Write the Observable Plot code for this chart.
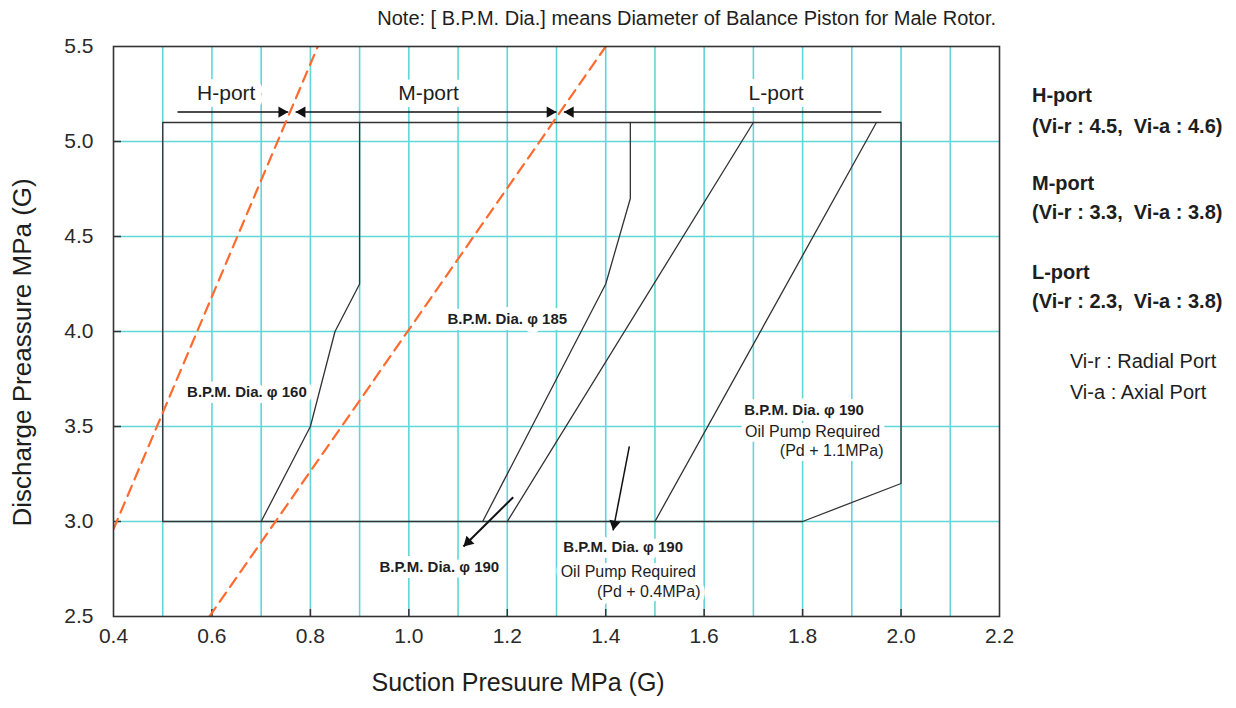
<!DOCTYPE html>
<html>
<head>
<meta charset="utf-8">
<script src="https://cdn.jsdelivr.net/npm/d3@7"></script>
<script src="https://cdn.jsdelivr.net/npm/@observablehq/plot@0.6"></script>
<style>
  html, body { margin: 0; padding: 0; background: #fff; }
  #chart svg { display: block; }
</style>
</head>
<body>
<div id="chart"></div>
<script>
// ---------- scales / ticks ----------
const xDomain = [0.4, 2.2];
const yDomain = [2.5, 5.5];
const xTickValues = [0.4, 0.6, 0.8, 1.0, 1.2, 1.4, 1.6, 1.8, 2.0, 2.2];
const yTickValues = [2.5, 3.0, 3.5, 4.0, 4.5, 5.0, 5.5];
const xInnerTicks = [0.6, 0.8, 1.0, 1.2, 1.4, 1.6, 1.8, 2.0];
const yInnerTicks = [3.0, 3.5, 4.0, 4.5, 5.0];
const xGridValues = [0.5, 0.6, 0.7, 0.8, 0.9, 1.0, 1.1, 1.2, 1.3, 1.4, 1.5, 1.6, 1.7, 1.8, 1.9, 2.0, 2.1];
const yGridValues = [3.0, 3.5, 4.0, 4.5, 5.0];

// ---------- curves (suction MPa, discharge MPa) ----------
const operatingEnvelope = [[0.5, 3.0], [0.5, 5.1], [2.0, 5.1], [2.0, 3.2], [1.8, 3.0], [0.5, 3.0]];
const limitPhi160 = [[0.7, 3.0], [0.8, 3.5], [0.85, 4.0], [0.9, 4.25], [0.9, 5.1]];
const limitPhi185 = [[1.15, 3.0], [1.4, 4.25], [1.45, 4.7], [1.45, 5.1]];
const limitPhi190 = [[1.2, 3.0], [1.7, 5.1]];
const limitPhi190Pump = [[1.5, 3.0], [1.95, 5.1]];
const boundaryHtoM = [[0.4, 2.96], [0.815, 5.5]];
const boundaryMtoL = [[0.595, 2.5], [1.4, 5.5]];

// ---------- arrows ----------
const portArrows = [
  {x1: 0.53, y1: 5.155, x2: 0.755, y2: 5.155, heads: ["end"]},
  {x1: 0.77, y1: 5.155, x2: 1.30, y2: 5.155, heads: ["start", "end"]},
  {x1: 1.96, y1: 5.155, x2: 1.315, y2: 5.155, heads: ["end"]}
];
const pointerArrowA = [{x1: 1.212, y1: 3.128, x2: 1.111, y2: 2.868, heads: ["end"]}];
const pointerArrowB = [{x1: 1.448, y1: 3.395, x2: 1.415, y2: 2.953, heads: ["end"]}];

// ---------- texts ----------
const noteText = [{text: "Note: [ B.P.M. Dia.] means Diameter of Balance Piston for Male Rotor.", x: 2.193, y: 5.647}];
const portLabels = [
  {text: "H-port", x: 0.629, y: 5.253},
  {text: "M-port", x: 1.04, y: 5.253},
  {text: "L-port", x: 1.746, y: 5.253}
];
const diaLabels = [
  {text: "B.P.M. Dia. φ 160", x: 0.671, y: 3.68},
  {text: "B.P.M. Dia. φ 185", x: 1.2, y: 4.067},
  {text: "B.P.M. Dia. φ 190", x: 1.062, y: 2.758},
  {text: "B.P.M. Dia. φ 190", x: 1.4355, y: 2.865},
  {text: "B.P.M. Dia. φ 190", x: 1.803, y: 3.588}
];
const pumpLabels = [
  {text: "Oil Pump Required", x: 1.4457, y: 2.733},
  {text: "(Pd + 0.4MPa)", x: 1.4873, y: 2.628},
  {text: "Oil Pump Required", x: 1.8203, y: 3.474},
  {text: "(Pd + 1.1MPa)", x: 1.859, y: 3.37}
];
const sideHeadings = [
  {text: "H-port", x: 2.266, y: 5.242},
  {text: "(Vi-r : 4.5,\u00a0 Vi-a : 4.6)", x: 2.266, y: 5.077},
  {text: "M-port", x: 2.266, y: 4.779},
  {text: "(Vi-r : 3.3,\u00a0 Vi-a : 3.8)", x: 2.266, y: 4.625},
  {text: "L-port", x: 2.266, y: 4.312},
  {text: "(Vi-r : 2.3,\u00a0 Vi-a : 3.8)", x: 2.266, y: 4.158}
];
const sideLegend = [
  {text: "Vi-r : Radial Port", x: 2.343, y: 3.839},
  {text: "Vi-a : Axial Port", x: 2.343, y: 3.681}
];
const xTitle = "Suction Presuure MPa (G)";
const yTitle = "Discharge Preassure MPa (G)";

// ---------- layout ----------
const W = 1236, H = 708;
const mL = 113, mR = 237, mT = 46, mB = 92;
const plotW = W - mL - mR, plotH = H - mT - mB;
const kx = plotW / (xDomain[1] - xDomain[0]);
const ky = plotH / (yDomain[1] - yDomain[0]);
const HEAD_R = 4.2;

const toRows = (name, pts) => pts.map(([x, y]) => ({series: name, x, y}));
const blackCurves = [
  ...toRows("envelope", operatingEnvelope),
  ...toRows("phi160", limitPhi160),
  ...toRows("phi185", limitPhi185),
  ...toRows("phi190", limitPhi190),
  ...toRows("phi190pump", limitPhi190Pump)
];
const dashedCurves = [...toRows("HM", boundaryHtoM), ...toRows("ML", boundaryMtoL)];

function headsOf(arrows) {
  return arrows.flatMap(a => a.heads.map(h => {
    const [tx, ty, fx, fy] = h === "end" ? [a.x2, a.y2, a.x1, a.y1] : [a.x1, a.y1, a.x2, a.y2];
    const px = (tx - fx) * kx, py = -(ty - fy) * ky;
    const len = Math.hypot(px, py);
    const ux = px / len, uy = py / len;
    const back = HEAD_R * Math.sqrt(Math.PI / (3 * Math.sqrt(3))) * 2;
    return {x: tx - ux * back / kx, y: ty + uy * back / ky, rotate: Math.atan2(px, -py) * 180 / Math.PI};
  }));
}

const cyan = "#62d5d8";
const ink = "#1e1e1e";
const orange = "#ff6a2e";

const plot = Plot.plot({
  width: W, height: H,
  marginLeft: mL, marginRight: mR, marginTop: mT, marginBottom: mB,
  style: {fontFamily: "'Liberation Sans', Arial, sans-serif", fontSize: "20px", background: "#fff", color: ink},
  x: {domain: xDomain, label: null},
  y: {domain: yDomain, label: null},
  marks: [
    Plot.ruleX(xGridValues, {stroke: cyan, strokeWidth: 1.6}),
    Plot.ruleY(yGridValues, {stroke: cyan, strokeWidth: 1.6}),
    Plot.tickX(xInnerTicks, {x: d => d, stroke: "#333", strokeWidth: 1.5, insetTop: plotH - 7}),
    Plot.tickY(yInnerTicks, {y: d => d, stroke: "#333", strokeWidth: 1.5, insetRight: plotW - 8}),
    Plot.axisX({ticks: xTickValues, tickSize: 0, tickPadding: 12, tickFormat: d3.format(".1f"), fontSize: 21, fill: "#2a2a2a"}),
    Plot.axisY({ticks: yTickValues, tickSize: 0, tickPadding: 20, tickFormat: d3.format(".1f"), fontSize: 21, fill: "#2a2a2a"}),
    Plot.line(blackCurves, {x: "x", y: "y", z: "series", stroke: "#333", strokeWidth: 1.3}),
    Plot.line(dashedCurves, {x: "x", y: "y", z: "series", stroke: orange, strokeWidth: 2.2, strokeDasharray: "11,7", clip: true}),
    Plot.frame({stroke: "#333", strokeWidth: 1.6}),
    // label boxes (white halo)
    Plot.text(portLabels, {x: "x", y: "y", text: "text", fontSize: 21, fill: ink, stroke: "white", strokeWidth: 14}),
    Plot.text(diaLabels, {x: "x", y: "y", text: "text", fontSize: 15, fontWeight: "bold", fill: ink, stroke: "white", strokeWidth: 12}),
    Plot.text(pumpLabels, {x: "x", y: "y", text: "text", fontSize: 16, fill: ink, stroke: "white", strokeWidth: 10}),
    // arrows
    Plot.link(portArrows, {x1: "x1", y1: "y1", x2: "x2", y2: "y2", stroke: "#111", strokeWidth: 1.4}),
    Plot.dot(headsOf(portArrows), {x: "x", y: "y", rotate: "rotate", symbol: "triangle", r: HEAD_R, fill: "#111", stroke: "none"}),
    Plot.link(pointerArrowA, {x1: "x1", y1: "y1", x2: "x2", y2: "y2", stroke: "#111", strokeWidth: 2}),
    Plot.dot(headsOf(pointerArrowA), {x: "x", y: "y", rotate: "rotate", symbol: "triangle", r: HEAD_R, fill: "#111", stroke: "none"}),
    Plot.link(pointerArrowB, {x1: "x1", y1: "y1", x2: "x2", y2: "y2", stroke: "#111", strokeWidth: 1.5}),
    Plot.dot(headsOf(pointerArrowB), {x: "x", y: "y", rotate: "rotate", symbol: "triangle", r: HEAD_R, fill: "#111", stroke: "none"}),
    // outside texts
    Plot.text(noteText, {x: "x", y: "y", text: "text", textAnchor: "end", fontSize: 20, fill: ink}),
    Plot.text(sideHeadings, {x: "x", y: "y", text: "text", textAnchor: "start", fontSize: 20, fontWeight: "bold", fill: ink}),
    Plot.text(sideLegend, {x: "x", y: "y", text: "text", textAnchor: "start", fontSize: 20, fill: ink}),
    Plot.text([xTitle], {x: 1.222, text: d => d, frameAnchor: "bottom", textAnchor: "middle", dy: 74, fontSize: 25, fill: ink}),
    Plot.text([yTitle], {y: 3.89, text: d => d, frameAnchor: "left", textAnchor: "middle", dx: -91, rotate: -90, fontSize: 26, fill: ink})
  ]
});
document.getElementById("chart").appendChild(plot);
</script>
</body>
</html>
